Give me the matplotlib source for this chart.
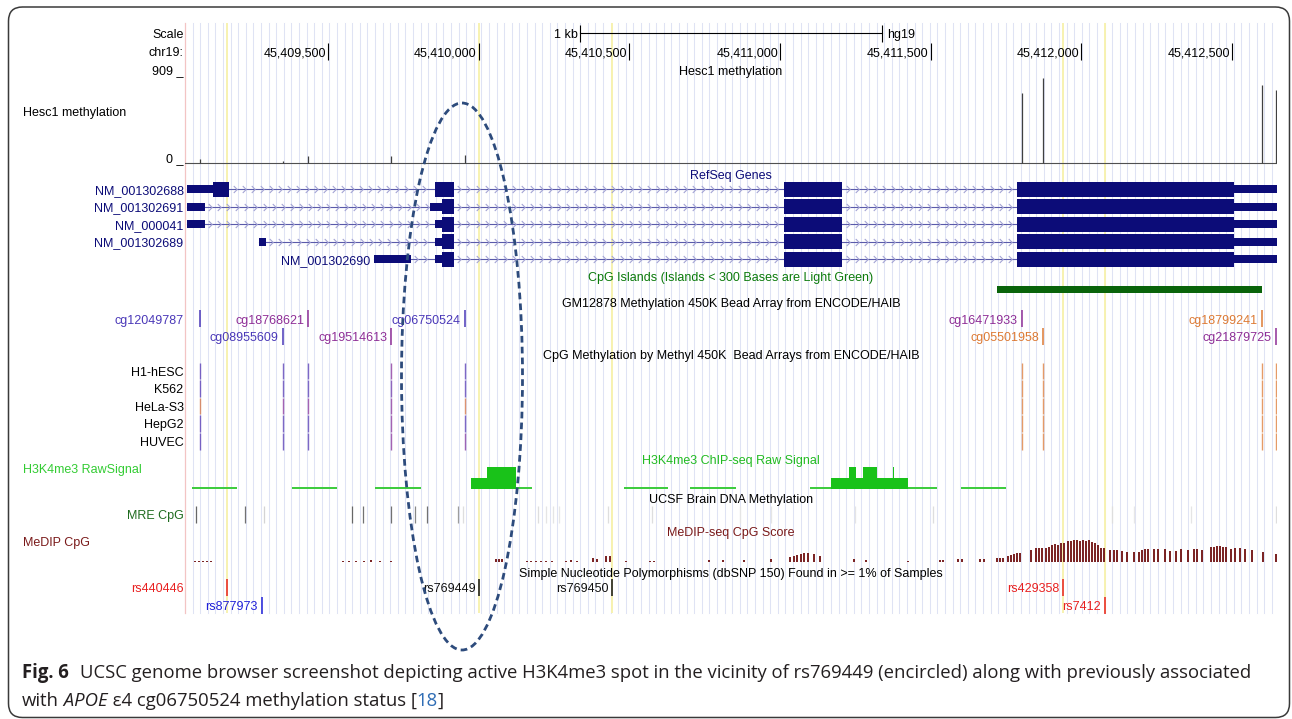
import matplotlib
matplotlib.use('Agg')
import matplotlib.pyplot as plt
from matplotlib.patches import Ellipse, FancyBboxPatch, Rectangle
from matplotlib.path import Path
from matplotlib.colors import LinearSegmentedColormap
from matplotlib.transforms import offset_copy
import numpy as np

plt.rcParams['font.family'] = ['Liberation Sans', 'DejaVu Sans']

W, H = 1292, 719
DATA_X0, DATA_X1 = 185, 1277

chrom = 'chr19'
win_start, win_end = 45409025, 45412650
ruler_ticks = [45409500, 45410000, 45410500, 45411000, 45411500, 45412000, 45412500]

# Hesc1 methylation signal (viewLimits 0-909)
hesc_max = 909
hesc_pos = [45409076, 45409349, 45409434, 45409710, 45409953, 45411802, 45411873, 45412600, 45412646]
hesc_val = [41, 28, 75, 75, 86, 721, 881, 806, 755]

# RefSeq transcripts
gene_names = ['NM_001302688', 'NM_001302691', 'NM_000041', 'NM_001302689', 'NM_001302690']
gene_exon_starts = [
    [45409031, 45409855, 45411012, 45411788],
    [45409031, 45409838, 45411012, 45411788],
    [45409031, 45409855, 45411012, 45411788],
    [45409271, 45409855, 45411012, 45411788],
    [45409652, 45409855, 45411012, 45411788],
]
gene_exon_ends = [
    [45409172, 45409918, 45411207, 45412650],
    [45409091, 45409918, 45411207, 45412650],
    [45409091, 45409918, 45411207, 45412650],
    [45409294, 45409918, 45411207, 45412650],
    [45409774, 45409918, 45411207, 45412650],
]
gene_cds_start = [45409119, 45409877, 45409877, 45409877, 45409877]
gene_cds_end = [45412508, 45412508, 45412508, 45412508, 45412508]

cpg_island = (45411719, 45412600)

# 450K probes, beta values drive the blue/purple/orange colouring
cg_names = ['cg12049787', 'cg08955609', 'cg18768621', 'cg19514613', 'cg06750524',
            'cg16471933', 'cg05501958', 'cg18799241', 'cg21879725']
cg_pos = [45409076, 45409349, 45409434, 45409710, 45409953, 45411802, 45411873, 45412600, 45412646]
cg_row = [0, 1, 0, 1, 0, 0, 1, 0, 1]
gm_beta = [0.1, 0.1, 0.5, 0.5, 0.1, 0.5, 0.9, 0.9, 0.5]
cell_lines = ['H1-hESC', 'K562', 'HeLa-S3', 'HepG2', 'HUVEC']
cell_beta = [
    [0.15, 0.15, 0.15, 0.45, 0.15, 0.9, 0.9, 0.9, 0.9],
    [0.15, 0.15, 0.15, 0.3, 0.15, 0.9, 0.9, 0.9, 0.9],
    [0.85, 0.45, 0.45, 0.45, 0.85, 0.9, 0.9, 0.9, 0.9],
    [0.15, 0.15, 0.15, 0.45, 0.15, 0.9, 0.9, 0.9, 0.9],
    [0.15, 0.15, 0.15, 0.45, 0.4, 0.9, 0.9, 0.9, 0.9],
]

# H3K4me3 raw signal pieces
h3_start = [45409048, 45409379, 45409657, 45409974, 45410029, 45410123, 45410481, 45410703,
            45411101, 45411170, 45411229, 45411251, 45411277, 45411322, 45411374, 45411380,
            45411425, 45411600]
h3_end = [45409199, 45409529, 45409808, 45410029, 45410123, 45410177, 45410629, 45410855,
          45411170, 45411229, 45411251, 45411277, 45411322, 45411374, 45411380, 45411425,
          45411522, 45411752]
h3_val = [0, 0, 0, 5, 10, 0, 0, 0, 0, 5, 10, 5, 10, 5, 10, 5, 0, 0]

# UCSF brain MRE CpG sites
mre_pos = [45409061, 45409223, 45409287, 45409579, 45409616, 45409710, 45409787, 45409827,
           45409931, 45409947, 45410196, 45410222, 45410245, 45410268, 45410428, 45410574,
           45410869, 45410970, 45411249, 45411507, 45412101, 45412176, 45412366, 45412646]
mre_score = [700, 650, 200, 700, 650, 650, 550, 650, 450, 150, 150, 120, 120, 110, 150, 150,
             120, 120, 120, 150, 150, 110, 120, 150]

# MeDIP-seq CpG score (0-1000)
medip_pos = [45409058, 45409071, 45409085, 45409098, 45409111,
             45409549, 45409569, 45409592, 45409619, 45409642, 45409672, 45409709,
             45410057, 45410067, 45410077,
             45410160, 45410173, 45410190, 45410206, 45410223, 45410243,
             45410289, 45410306, 45410326,
             45410379, 45410392, 45410422, 45410435,
             45410489, 45410568, 45410581,
             45410764, 45410810, 45410880, 45410970,
             45411033, 45411046, 45411056, 45411069, 45411079, 45411093, 45411112, 45411132,
             45411245, 45411285, 45411424, 45411531, 45411541,
             45411590, 45411604, 45411663, 45411677,
             45411720, 45411730, 45411740, 45411756, 45411766, 45411776, 45411786, 45411796,
             45411833, 45411849, 45411859, 45411869, 45411882, 45411892, 45411902, 45411912,
             45411922, 45411932, 45411942, 45411955, 45411965, 45411975, 45411985, 45411995,
             45412005, 45412015, 45412025, 45412035, 45412045, 45412055, 45412065, 45412075,
             45412095, 45412108, 45412118, 45412135, 45412151, 45412174, 45412191, 45412201,
             45412211, 45412221, 45412241, 45412254, 45412277, 45412294, 45412314, 45412330,
             45412354, 45412374, 45412383, 45412400, 45412430, 45412440, 45412450, 45412460,
             45412470, 45412480, 45412496, 45412510, 45412526, 45412543, 45412566, 45412603,
             45412646]
medip_score = [45, 45, 45, 45, 45,
               45, 45, 45, 45, 90, 45, 45,
               130, 130, 130,
               45, 45, 45, 45, 45, 45,
               45, 90, 45,
               180, 130, 270, 270,
               45, 45, 45,
               90, 90, 90, 130,
               220, 270, 310, 360, 400, 400, 360, 270,
               130, 90, 45, 90, 90,
               130, 130, 130, 130,
               180, 180, 180, 270, 310, 360, 400, 400,
               540, 630, 630, 630, 630, 670, 760, 810,
               760, 850, 850, 940, 940, 990, 990, 940,
               990, 940, 990, 900, 850, 760, 630, 630,
               540, 540, 540, 490, 450, 450, 450, 540,
               580, 580, 580, 580, 580, 490, 490, 580,
               540, 580, 580, 540, 670, 670, 720, 720,
               670, 670, 580, 630, 630, 580, 540, 450,
               360]

# dbSNP 150 common variants; highlighted ones get a yellow guide
snp_names = ['rs440446', 'rs877973', 'rs769449', 'rs769450', 'rs429358', 'rs7412']
snp_pos = [45409163, 45409279, 45410002, 45410444, 45411941, 45412079]
snp_row = [0, 1, 0, 0, 0, 1]
snp_color = ['#e82020', '#2020d8', '#111111', '#111111', '#e82020', '#e82020']
snp_highlight = [True, False, True, True, True, True]

FS = 9
NAVY = '#0c0c78'
beta_cmap = LinearSegmentedColormap.from_list('beta', ['#3a3ac0', '#8e2e96', '#f08c1c'])

fig = plt.figure(figsize=(W / 100, H / 100), dpi=100)
fig.patch.set_facecolor('white')

# three stacked layers: guides at the back, tracks, then labels/overlays
bg = fig.add_axes([0, 0, 1, 1])
bg.set_xlim(0, W)
bg.set_ylim(H, 0)
bg.axis('off')
bg.set_zorder(0)
trk = fig.add_axes([DATA_X0 / W, 0, (DATA_X1 - DATA_X0) / W, 1])
trk.set_xlim(win_start, win_end)
trk.set_ylim(H, 0)
trk.axis('off')
trk.set_zorder(1)
page = fig.add_axes([0, 0, 1, 1])
page.set_xlim(0, W)
page.set_ylim(H, 0)
page.axis('off')
page.set_zorder(3)
rend = fig.canvas.get_renderer()
lab_tf = offset_copy(trk.transData, fig=fig, x=-4, y=0, units='dots')


def base(yc):
    # baseline for a 9pt label whose capitals are centred on yc
    return yc + 4.5


def feature_label(pos, yc, text, color):
    t = trk.text(pos, base(yc), text, color=color, fontsize=FS, ha='right', va='baseline',
                 transform=lab_tf, zorder=6)
    if t.get_window_extent(renderer=rend).x0 < DATA_X0:
        t.remove()
        page.text(DATA_X0 - 1.5, base(yc), text, color=color, fontsize=FS, ha='right',
                  va='baseline')


def center_title(yc, text, color='black'):
    page.text((DATA_X0 + DATA_X1) / 2, base(yc), text, color=color, fontsize=FS,
              ha='center', va='baseline')


def side_name(yc, text, color='black', left=False):
    if left:
        page.text(23, base(yc), text, color=color, fontsize=FS, ha='left', va='baseline')
    else:
        page.text(DATA_X0 - 1.5, base(yc), text, color=color, fontsize=FS, ha='right',
                  va='baseline')


# guidelines and highlights
for gx in np.arange(DATA_X0 + 7.6, DATA_X1 + 1, 7.6):
    bg.plot([gx, gx], [23, 613], color='#dfe3f4', lw=0.75)
bg.plot([DATA_X0, DATA_X0], [23, 613], color='#f3c4c4', lw=0.9)
trk.vlines([p for p, hl in zip(snp_pos, snp_highlight) if hl], 23, 613,
           color='#f7f2b0', lw=1.4, zorder=0.5)

# ruler
mid = (win_start + win_end) / 2
trk.plot([mid - 500, mid + 500], [33.3, 33.3], color='black', lw=0.8)
trk.vlines([mid - 500, mid + 500], 25, 42, color='black', lw=0.8)
trk.text(mid - 500, base(33.3), '1 kb', fontsize=FS, ha='right', va='baseline',
         transform=offset_copy(trk.transData, fig=fig, x=-3, y=0, units='dots'))
trk.text(mid + 500, base(33.3), 'hg19', fontsize=FS, ha='left', va='baseline',
         transform=offset_copy(trk.transData, fig=fig, x=6, y=0, units='dots'))
side_name(33.3, 'Scale')
side_name(51.7, chrom + ':')
for p in ruler_ticks:
    trk.vlines(p, 43, 60, color='black', lw=0.8)
    trk.text(p, base(51.7), f'{p:,}', fontsize=FS, ha='right', va='baseline',
             transform=offset_copy(trk.transData, fig=fig, x=-2, y=0, units='dots'))

# Hesc1 methylation
meth_top, meth_bot = 75, 163.3
center_title(70, 'Hesc1 methylation')
page.text(DATA_X0 - 1.5, meth_top - 1, str(hesc_max) + ' _', fontsize=FS, ha='right',
          va='baseline')
page.text(DATA_X0 - 1.5, meth_bot - 1, '0 _', fontsize=FS, ha='right', va='baseline')
side_name(111.7, 'Hesc1 methylation', left=True)
trk.plot([win_start, win_end], [meth_bot, meth_bot], color='#505050', lw=0.8)
hv = np.array(hesc_val)
trk.vlines(hesc_pos, meth_bot - hv / hesc_max * (meth_bot - meth_top), meth_bot,
           color='#404040', lw=0.9)

# RefSeq genes
center_title(174, 'RefSeq Genes', NAVY)
chevron = Path([(-0.5, 1), (0.5, 0), (-0.5, -1)], [Path.MOVETO, Path.LINETO, Path.LINETO])
for i, name in enumerate(gene_names):
    y = 189.2 + i * 17.5
    starts, ends = gene_exon_starts[i], gene_exon_ends[i]
    cs, ce = gene_cds_start[i], gene_cds_end[i]
    trk.plot([starts[0], ends[-1]], [y, y], color='#5a5aaa', lw=0.8, zorder=2)
    for a, b in zip(ends[:-1], starts[1:]):
        xs = np.arange(a + 18, b - 8, 30)
        trk.plot(xs, np.full(len(xs), y), ls='none', marker=chevron, ms=5,
                 mec='#a3a3d4', mfc='none', mew=0.8, zorder=2)
    for s, e in zip(starts, ends):
        trk.add_patch(Rectangle((s, y - 4), e - s, 8, fc=NAVY, ec='none', zorder=3))
        ts, te = max(s, cs), min(e, ce)
        if te > ts:
            trk.add_patch(Rectangle((ts, y - 7.5), te - ts, 15.0, fc=NAVY, ec='none', zorder=3))
    feature_label(starts[0], y, name, NAVY)

# CpG islands
center_title(277, 'CpG Islands (Islands < 300 Bases are Light Green)', '#0b7a0b')
trk.add_patch(Rectangle((cpg_island[0], 286), cpg_island[1] - cpg_island[0], 6.7,
                        fc='#0a640a', ec='none'))

# GM12878 450K
center_title(302, 'GM12878 Methylation 450K Bead Array from ENCODE/HAIB')
for p, name, r, b in zip(cg_pos, cg_names, cg_row, gm_beta):
    yc = 319.3 + r * 17.4
    col = beta_cmap(b)
    trk.vlines(p, yc - 9, yc + 8, color=col, lw=1.1)
    feature_label(p, yc, name, col)

# 450K by cell line
center_title(355, 'CpG Methylation by Methyl 450K  Bead Arrays from ENCODE/HAIB')
for i, cell in enumerate(cell_lines):
    yc = 371 + i * 17.65
    side_name(yc, cell)
    trk.vlines(cg_pos, yc - 8.5, yc + 8, color=[beta_cmap(b) for b in cell_beta[i]],
               lw=1.0, alpha=0.75)

# H3K4me3
h3_base = 488.5
center_title(459.3, 'H3K4me3 ChIP-seq Raw Signal', '#22bb22')
side_name(468.3, 'H3K4me3 RawSignal', '#33cc33', left=True)
for s, e, v in zip(h3_start, h3_end, h3_val):
    h = max(v * 2.2, 1.3)
    col = '#19c219' if v > 0 else '#3fcc3f'
    trk.add_patch(Rectangle((s, h3_base - h), e - s, h, fc=col, ec='none'))

# UCSF brain methylation
center_title(498.3, 'UCSF Brain DNA Methylation')
side_name(515, 'MRE CpG', '#1f6b1f')
trk.vlines(mre_pos, 506, 523, color=[str(1 - 0.85 * s / 1000) for s in mre_score], lw=0.9)

# MeDIP
medip_base = 561.7
center_title(531.7, 'MeDIP-seq CpG Score', '#7a1a1a')
side_name(541.7, 'MeDIP CpG', '#7a1a1a', left=True)
ms = np.array(medip_score)
trk.vlines(medip_pos, medip_base - ms / 1000 * 22, medip_base, color='#6e0e0e', lw=1.3)

# dbSNP
center_title(572, 'Simple Nucleotide Polymorphisms (dbSNP 150) Found in >= 1% of Samples')
for p, name, r, c in zip(snp_pos, snp_names, snp_row, snp_color):
    yc = 587.3 + r * 17.7
    trk.vlines(p, yc - 8.5, yc + 8.5, color=c, lw=1.1)
    feature_label(p, yc, name, c)

# circle around rs769449
page.add_patch(Ellipse((462, 376.5), 121, 547, fill=False, ec='#2d4b7c', lw=2.0,
                       ls=(0, (2.4, 1.5)), zorder=5))

# frame
page.add_patch(FancyBboxPatch((8.5, 7), 1281, 710.5, boxstyle='round,pad=0,rounding_size=14',
                              fc='none', ec='#3a3a3a', lw=1.1))

# caption
cap_font = ['Open Sans', 'DejaVu Sans']
cap_col = '#231f20'


def caption_line(x, y, pieces, size):
    made = []
    for txt, style in pieces:
        t = page.text(x, y, txt, fontsize=size, va='baseline', family=cap_font,
                      color=style.get('color', cap_col), fontweight=style.get('weight', 'normal'),
                      fontstyle=style.get('style', 'normal'))
        made.append(t)
        x = t.get_window_extent(renderer=rend).x1 + style.get('gap', 0)
    return made, x


line1 = [('Fig. 6', {'weight': 'bold', 'gap': 11}),
         ('UCSC genome browser screenshot depicting active H3K4me3 spot in the vicinity of '
          'rs769449 (encircled) along with previously associated', {})]
line2 = [('with', {}), (' APOE', {'style': 'italic'}),
         (' \u03b54 cg06750524 methylation status [', {}), ('18', {'color': '#2f6db5'}),
         (']', {})]
made, x_end = caption_line(22, 678, line1, 12)
size = 12 * (1249 - 22) / (x_end - 22)
for t in made:
    t.remove()
caption_line(22, 678, line1, size)
caption_line(22, 706, line2, size)

fig.savefig('out.png', dpi=100)
